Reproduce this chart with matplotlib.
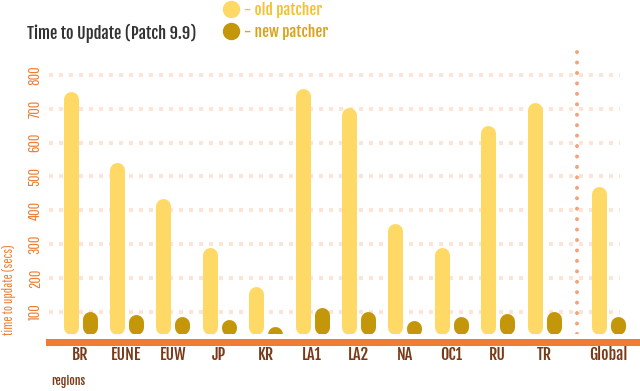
import matplotlib
matplotlib.use("Agg")
import matplotlib.pyplot as plt
from matplotlib import font_manager
from matplotlib.patches import Circle

# data
regions = ["BR", "EUNE", "EUW", "JP", "KR", "LA1", "LA2", "NA", "OC1", "RU", "TR", "Global"]
old_patcher = [750, 540, 435, 290, 175, 760, 705, 360, 290, 650, 720, 470]
new_patcher = [100, 92, 85, 77, 56, 111, 100, 74, 85, 95, 100, 85]
y_ticks = [100, 200, 300, 400, 500, 600, 700, 800]
positions = [0, 1, 2, 3, 4, 5, 6, 7, 8, 9, 10, 11.38]
divider_x = 10.71

OLD_COL = "#ffd966"
NEW_COL = "#c4960a"
ORANGE = "#ee7d31"
BROWN = "#7b3a17"

plt.rcParams['path.simplify'] = False

names = {f.name for f in font_manager.fontManager.ttflist}
def pick(*fams):
    return [f for f in fams if f in names] + ["DejaVu Sans"]

THIN = pick("Pathway Gothic One", "Oswald")
BOLD = pick("Fjalla One", "Oswald")
plt.rcParams['font.family'] = BOLD

W, H = 640, 391
fig = plt.figure(figsize=(6.4, 3.91), dpi=100)
ax = fig.add_axes([49 / W, 1 - 334 / H, (637 - 49) / W, (334 - 45) / H])

ymin, ymax = 34, 889
ax.set_ylim(ymin, ymax)
ax.set_xlim(-0.668, 12.0)

px_per_unit = (334 - 45) / (ymax - ymin)
bar_px = 15
r = (bar_px / 2) / px_per_unit
off = 9.5 / 46.4


def pill(x, v, col):
    top = v - r
    bottom = min(ymin + r, top - 2)
    ax.plot([x, x], [bottom, top], color=col, lw=bar_px * 0.72,
            solid_capstyle="round", zorder=3)


for x, v in zip(positions, old_patcher):
    pill(x - off, v, OLD_COL)
for x, v in zip(positions, new_patcher):
    pill(x + off, v, NEW_COL)

# dotted grid
for t in y_ticks:
    ax.axhline(t, xmin=0, xmax=(620 - 49) / (637 - 49), color="#fce4d6",
               lw=4 * 0.72, linestyle=(0, (1, 1.5)), dash_capstyle="butt", zorder=1)

ax.axvline(divider_x, ymin=0, ymax=(334 - 47) / (334 - 45), color="#f2a37a",
           lw=4 * 0.72, linestyle=(0, (0.01, 2.6)), dash_capstyle="round", zorder=2)

for s in ["top", "right", "left"]:
    ax.spines[s].set_visible(False)
ax.spines["bottom"].set_position(("outward", 5.4))
ax.spines["bottom"].set_color(ORANGE)
ax.spines["bottom"].set_linewidth(7 * 0.72)

ax.set_xticks(positions)
ax.set_xticklabels(regions, fontsize=11.5, color=BROWN)
ax.tick_params(axis="x", length=0, pad=3)
ax.set_yticks(y_ticks)
ax.set_yticklabels([str(t) for t in y_ticks], rotation=90, va="center",
                   fontsize=11.5, color=ORANGE, family=THIN)
ax.tick_params(axis="y", length=0, pad=4.5)

fig.text(9 / W, 1 - 290 / H, "time to update (secs)", rotation=90, ha="center",
         va="center", fontsize=10, color=ORANGE, family=THIN)
fig.text(51 / W, 1 - 381 / H, "regions", ha="left", va="center", fontsize=8.5,
         color=BROWN)
fig.text(27 / W, 1 - 33 / H, "Time to Update (Patch 9.9)", ha="left", va="center",
         fontsize=11.8, color="#333333")

# legend
ov = fig.add_axes([0, 0, 1, 1], facecolor="none")
ov.set_xlim(0, W)
ov.set_ylim(H, 0)
ov.set_aspect("equal")
ov.axis("off")
ov.add_patch(Circle((231.5, 9.5), 8, color=OLD_COL))
ov.add_patch(Circle((231.5, 31.5), 8, color=NEW_COL))
ov.text(244, 10, "- old patcher", ha="left", va="center", fontsize=11,
        color="#f2c232")
ov.text(244, 32, "- new patcher", ha="left", va="center", fontsize=11,
        color="#d9a31b")

fig.savefig("out.png", dpi=100)
